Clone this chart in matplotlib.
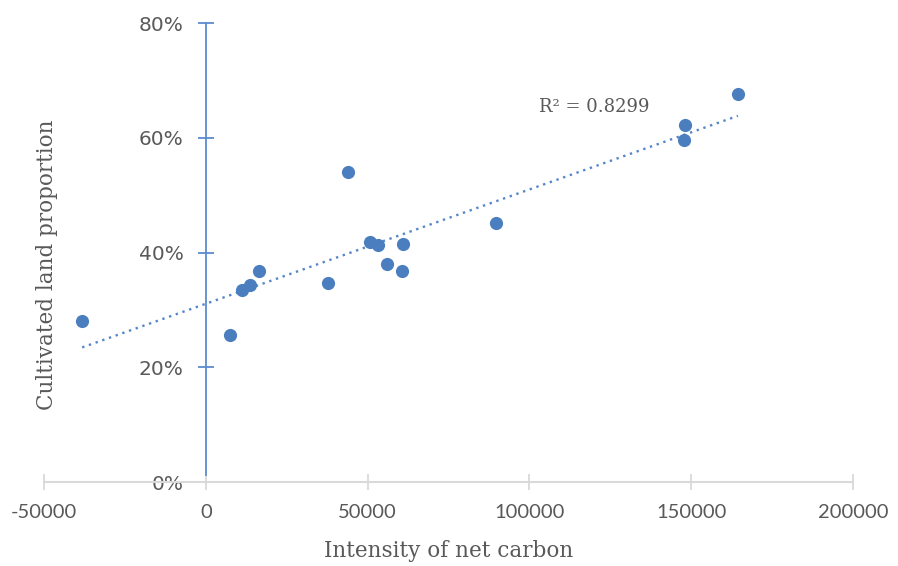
import matplotlib.pyplot as plt
import numpy as np

# net carbon intensity vs cultivated land proportion
carbon = [-38200, 7600, 11100, 13700, 16500, 37700, 44000, 50600,
          53100, 55900, 60500, 60900, 89700, 147600, 148000, 164400]
land = [0.281, 0.257, 0.335, 0.343, 0.368, 0.348, 0.541, 0.418,
        0.413, 0.381, 0.368, 0.416, 0.451, 0.596, 0.623, 0.677]
r2_label = "R² = 0.8299"

x_ticks = [-50000, 0, 50000, 100000, 150000, 200000]
x_labels = ["-50000", "0", "50000", "100000", "150000", "200000"]
y_ticks = [0.0, 0.2, 0.4, 0.6, 0.8]
y_labels = ["0%", "20%", "40%", "60%", "80%"]

BLUE = "#4a7ebf"
AXBLUE = "#5b8ccf"
GREY_TXT = "#595959"
GREY_AX = "#d9d9d9"
SERIF = "DejaVu Serif"
SANS = "Lato"

fig = plt.figure(figsize=(8.98, 5.66), dpi=100)
ax = fig.add_axes([0.049, 0.148, 0.901, 0.811])

ax.scatter(carbon, land, s=90, color=BLUE, zorder=3, linewidths=0)

# linear trendline over the data range
slope, icpt = np.polyfit(carbon, land, 1)
xs = np.array([min(carbon), max(carbon)])
ax.plot(xs, slope * xs + icpt, color="#5587c8", lw=1.7,
        linestyle=(0, (1, 2.0)), zorder=2)

ax.text(120000, 0.654, r2_label, fontsize=13, color=GREY_TXT, family=SERIF,
        ha="center", va="center")

ax.set_xlim(-50000, 200000)
ax.set_ylim(0, 0.8)
ax.set_xticks(x_ticks)
ax.set_xticklabels(x_labels, family=SANS)
ax.set_yticks(y_ticks)
ax.set_yticklabels(y_labels, family=SANS)

for s in ("top", "right"):
    ax.spines[s].set_visible(False)
ax.spines["left"].set_position(("data", 0))
ax.spines["left"].set_color(AXBLUE)
ax.spines["left"].set_linewidth(1.3)
ax.spines["left"].set_bounds(0.012, 0.8)
ax.spines["bottom"].set_color(GREY_AX)
ax.spines["bottom"].set_linewidth(1.5)

ax.tick_params(axis="y", direction="inout", length=12, width=1.3, color=AXBLUE,
               labelcolor=GREY_TXT, labelsize=14.5, pad=10)
ax.tick_params(axis="x", direction="inout", length=12, width=1.3, color=GREY_AX,
               labelcolor=GREY_TXT, labelsize=14.5, pad=10)
ax.yaxis.get_major_ticks()[0].tick1line.set_visible(False)

fig.text(0.5, 0.027, "Intensity of net carbon", fontsize=15.5, color=GREY_TXT,
         family=SERIF, ha="center", va="center")
fig.text(0.052, 0.532, "Cultivated land proportion", fontsize=15.5, color=GREY_TXT,
         family=SERIF, ha="center", va="center", rotation=90)

fig.savefig("out.png", dpi=100)
